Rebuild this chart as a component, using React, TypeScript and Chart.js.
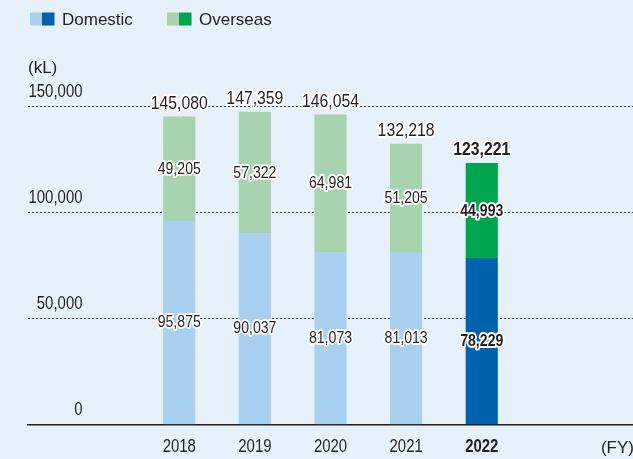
import React, { useEffect, useRef } from 'react';
import { Chart, registerables } from 'chart.js';

Chart.register(...registerables);

const years = ['2018', '2019', '2020', '2021', '2022'];
const domestic = [95875, 90037, 81073, 81013, 78229];
const overseas = [49205, 57322, 64981, 51205, 44993];
const totals = [145080, 147359, 146054, 132218, 123221];
const yTickStep = 50000;
const yMax = 150000;
const highlightYear = '2022';
const yUnit = '(kL)';
const xUnit = '(FY)';

const FAMILY = '"Liberation Sans", Arial, Helvetica, sans-serif';
const SX = 0.83; // horizontal condensation for numeric labels
const TEXT = '#231f20';
const BG = '#e7f1fa';
const COLORS = {
  domestic: { light: '#a9d0ef', dark: '#0062ad' },
  overseas: { light: '#a7d3ae', dark: '#00a54f' },
};

const labels = ['', '', ...years, '', ''];
const pad = (arr: number[]) => [null, null, ...arr, null, null];
const fmt = (v: number) => v.toLocaleString('en-US');

function cText(
  ctx: CanvasRenderingContext2D,
  text: string,
  x: number,
  y: number,
  size: number,
  bold: boolean,
  align: CanvasTextAlign,
  halo: boolean
) {
  ctx.save();
  ctx.font = `${bold ? 'bold ' : ''}${size}px ${FAMILY}`;
  ctx.translate(x, y);
  ctx.scale(SX, 1);
  ctx.textAlign = align;
  ctx.textBaseline = 'middle';
  if (halo) {
    ctx.lineJoin = 'round';
    ctx.lineWidth = 4;
    ctx.strokeStyle = '#ffffff';
    ctx.strokeText(text, 0, 0);
  }
  ctx.fillStyle = TEXT;
  ctx.fillText(text, 0, 0);
  ctx.restore();
}

const labelPlugin = {
  id: 'valueLabels',
  afterDatasetsDraw(chart: any) {
    const ctx = chart.ctx;
    const y = chart.scales.y;
    const x = chart.scales.x;
    chart.data.datasets.forEach((ds: any, di: number) => {
      const meta = chart.getDatasetMeta(di);
      meta.data.forEach((bar: any, i: number) => {
        const v = ds.data[i];
        if (v == null) return;
        const p = bar.getProps(['x', 'y', 'base'], true);
        cText(ctx, fmt(v), p.x, (p.y + p.base) / 2, 17, labels[i] === highlightYear, 'center', true);
      });
    });
    years.forEach((yr, i) => {
      const px = x.getPixelForValue(labels.indexOf(yr));
      const py = y.getPixelForValue(totals[i]) - 13;
      cText(ctx, fmt(totals[i]), px, py, 19, yr === highlightYear, 'center', true);
    });
  },
  afterDraw(chart: any) {
    const ctx = chart.ctx;
    const area = chart.chartArea;
    const x = chart.scales.x;
    const y = chart.scales.y;
    // y tick labels (from the scale's ticks)
    y.ticks.forEach((t: any) => {
      cText(ctx, fmt(t.value), 82.5, y.getPixelForValue(t.value) - 14, 18, false, 'right', false);
    });
    // x tick labels (from the scale's ticks)
    x.ticks.forEach((t: any, i: number) => {
      const lab = labels[t.value];
      if (!lab) return;
      cText(ctx, lab, x.getPixelForTick(i), 447, 18, lab === highlightYear, 'center', false);
    });
    ctx.save();
    // legend
    const items = [
      { label: chart.data.datasets[0].label, c: COLORS.domestic, x: 30 },
      { label: chart.data.datasets[1].label, c: COLORS.overseas, x: 167 },
    ];
    items.forEach((it) => {
      ctx.fillStyle = it.c.light;
      ctx.fillRect(it.x, 12.5, 12, 13);
      ctx.fillStyle = it.c.dark;
      ctx.fillRect(it.x + 12, 12.5, 12.5, 13);
      ctx.fillStyle = TEXT;
      ctx.font = `17px ${FAMILY}`;
      ctx.textAlign = 'left';
      ctx.textBaseline = 'middle';
      ctx.fillText(it.label, it.x + 32, 20);
    });
    // units
    ctx.font = `17px ${FAMILY}`;
    ctx.fillStyle = TEXT;
    ctx.textAlign = 'left';
    ctx.textBaseline = 'middle';
    ctx.fillText(yUnit, area.left, 68);
    ctx.textAlign = 'right';
    ctx.fillText(xUnit, area.right + 1, 448);
    ctx.restore();
  },
};

export default function App() {
  const ref = useRef<HTMLCanvasElement>(null);
  useEffect(() => {
    document.body.style.margin = '0';
    const canvas = ref.current!;
    const chart = new Chart(canvas, {
      type: 'bar',
      data: {
        labels,
        datasets: [
          {
            label: 'Domestic',
            data: pad(domestic),
            backgroundColor: (c: any) =>
              labels[c.dataIndex] === highlightYear ? COLORS.domestic.dark : COLORS.domestic.light,
            barThickness: 31.5,
            stack: 's',
          },
          {
            label: 'Overseas',
            data: pad(overseas),
            backgroundColor: (c: any) =>
              labels[c.dataIndex] === highlightYear ? COLORS.overseas.dark : COLORS.overseas.light,
            barThickness: 31.5,
            stack: 's',
          },
        ],
      },
      options: {
        responsive: false,
        animation: false,
        layout: { autoPadding: false, padding: { left: 28, top: 106.5, right: 0, bottom: 34.7 } },
        plugins: {
          legend: { display: false },
          tooltip: { enabled: false },
        },
        scales: {
          x: {
            stacked: true,
            offset: false,
            grid: { display: false, drawTicks: false },
            border: { display: true, color: '#222', width: 1.5 },
            ticks: { display: false, autoSkip: false },
          },
          y: {
            stacked: true,
            min: 0,
            max: yMax,
            grid: {
              drawTicks: false,
              color: (c: any) => (c.tick && c.tick.value === 0 ? 'rgba(0,0,0,0)' : '#444'),
              lineWidth: 1,
            },
            border: { display: false, dash: [2, 2] },
            ticks: { display: false, stepSize: yTickStep },
          },
        },
      },
      plugins: [labelPlugin],
    } as any);
    return () => chart.destroy();
  }, []);
  return (
    <div style={{ width: 633, height: 459, background: BG }}>
      <canvas ref={ref} width={633} height={459} style={{ display: 'block' }} />
    </div>
  );
}
